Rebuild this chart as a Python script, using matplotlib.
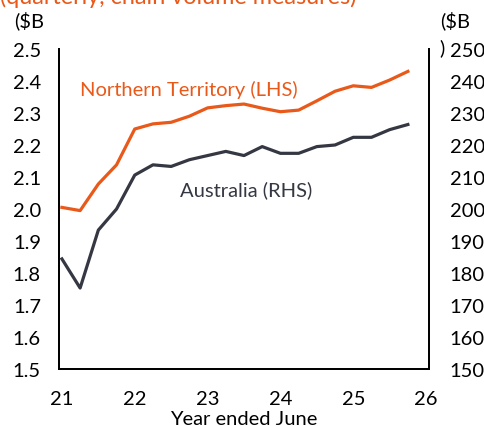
import matplotlib
matplotlib.use("Agg")
import matplotlib.pyplot as plt

# quarterly data, year ended June
quarters = [21.0, 21.25, 21.5, 21.75, 22.0, 22.25, 22.5, 22.75, 23.0, 23.25,
            23.5, 23.75, 24.0, 24.25, 24.5, 24.75, 25.0, 25.25, 25.5, 25.75]
nt_gsp = [2.005, 1.995, 2.078, 2.138, 2.25, 2.266, 2.271, 2.29, 2.316, 2.323,
          2.328, 2.315, 2.304, 2.309, 2.338, 2.368, 2.385, 2.38, 2.403, 2.43]
aus_gdp = [184.4, 175.3, 193.4, 200.0, 210.6, 213.8, 213.3, 215.4, 216.7, 218.0,
           216.7, 219.5, 217.4, 217.4, 219.5, 220.0, 222.4, 222.4, 224.8, 226.4]

x_ticks = [21, 22, 23, 24, 25, 26]
left_ticks = [1.5, 1.6, 1.7, 1.8, 1.9, 2.0, 2.1, 2.2, 2.3, 2.4, 2.5]
right_ticks = [150, 160, 170, 180, 190, 200, 210, 220, 230, 240, 250]

ORANGE = "#E8591A"
DARK = "#353842"
FS = 14.5

plt.rcParams["font.family"] = ["Lato", "DejaVu Sans"]
plt.rcParams["font.size"] = FS

fig = plt.figure(figsize=(4.85, 4.27), dpi=100)
ax = fig.add_axes([59 / 485, 1 - 370 / 427, 370 / 485, 320 / 427])
ax2 = ax.twinx()

ax.plot(quarters, nt_gsp, color=ORANGE, lw=2.3, zorder=3)
ax2.plot(quarters, aus_gdp, color=DARK, lw=2.3, zorder=3)

ax.set_xlim(20.96, 26.04)
ax.set_ylim(1.5, 2.5)
ax2.set_ylim(150, 250)
ax.set_xticks(x_ticks)
ax.set_yticks(left_ticks)
ax2.set_yticks(right_ticks)
ax.set_yticklabels([f"{v:.1f}" for v in left_ticks])
ax2.set_yticklabels([str(v) for v in right_ticks])

for a in (ax, ax2):
    a.spines["top"].set_visible(False)
    for s in a.spines.values():
        s.set_linewidth(1.3)
        s.set_color("black")
ax.tick_params(axis="y", length=0, pad=13, labelsize=FS)
ax.tick_params(axis="x", length=0, pad=15, labelsize=FS)
ax2.tick_params(axis="y", length=0, pad=15, labelsize=FS)

ax.set_xlabel("Year ended June", fontsize=FS, labelpad=2.2)

ax.text(22.74, 2.375, "Northern Territory (LHS)", color=ORANGE, fontsize=FS,
        ha="center", va="center")
ax.text(23.53, 2.0625, "Australia (RHS)", color=DARK, fontsize=FS,
        ha="center", va="center")

fig.text(0.0, 1 + 3 / 427, "(quarterly, chain volume measures)", color=ORANGE,
         fontsize=16.8, ha="left", va="center")
fig.text(14 / 485, 1 - 21 / 427, "($B", fontsize=FS, ha="left", va="center")
fig.text(440 / 485, 1 - 21 / 427, "($B", fontsize=FS, ha="left", va="center")
fig.text(439 / 485, 1 - 48 / 427, ")", fontsize=FS, ha="left", va="center")

fig.savefig("out.png", dpi=100)
